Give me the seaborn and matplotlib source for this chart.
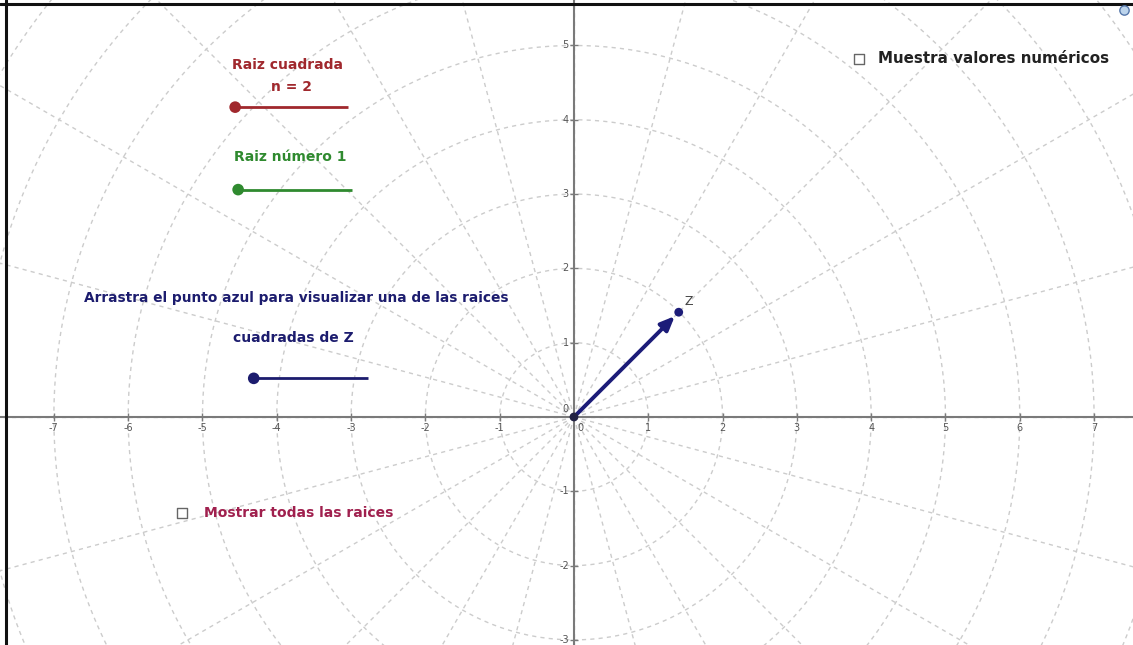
import numpy as np
import matplotlib
matplotlib.use("Agg")
import matplotlib.pyplot as plt
import seaborn as sns
import pandas as pd

# ── Data ─────────────────────────────────────────────────────────────────────
X_TICKS = [-7, -6, -5, -4, -3, -2, -1, 0, 1, 2, 3, 4, 5, 6, 7]
Y_TICKS = [-3, -2, -1, 0, 1, 2, 3, 4, 5]
GRID_RADII = [1, 2, 3, 4, 5, 6, 7, 8, 9, 10]
GRID_ANGLES_DEG = list(range(0, 360, 15))

Z_POINT = (1.41, 1.41)          # vector Z
ORIGIN = (0.0, 0.0)

SLIDER_NAMES = ["n", "raiz", "z"]
SLIDER_X0 = [-4.56, -4.52, -4.31]
SLIDER_X1 = [-3.04, -2.99, -2.77]
SLIDER_Y = [4.17, 3.06, 0.52]
SLIDER_COLORS = ["#a0282d", "#2f8a2f", "#1c1c6e"]

# ── Style ────────────────────────────────────────────────────────────────────
sns.set_theme(style="white")
plt.rcParams["font.family"] = ["DejaVu Sans"]

XLIM = (-7.725, 7.524)
YLIM = (-3.069, 5.612)
LABEL_FS = 10.0

fig = plt.figure(figsize=(11.33, 6.45), dpi=100)
ax = fig.add_axes([0, 0, 1, 1])
ax.set_xlim(*XLIM)
ax.set_ylim(*YLIM)
ax.set_aspect("equal")
ax.axis("off")

# polar grid
grid_kw = dict(color="#cccccc", lw=1.0, ls=(0, (3, 3)), zorder=1)
t = np.linspace(0, 2 * np.pi, 400)
for r in GRID_RADII:
    ax.plot(r * np.cos(t), r * np.sin(t), **grid_kw)
for a in GRID_ANGLES_DEG:
    th = np.deg2rad(a)
    ax.plot([0, 12 * np.cos(th)], [0, 12 * np.sin(th)], **grid_kw)

# axes
ax.axhline(0, color="#7a7a7a", lw=1.5, zorder=2)
ax.axvline(0, color="#7a7a7a", lw=1.5, zorder=2)
xt = [v for v in X_TICKS if v != 0]
yt = [v for v in Y_TICKS if v != 0]
ax.scatter(xt, [0] * len(xt), marker="|", s=40, color="#7a7a7a", lw=1, zorder=2)
ax.scatter([0] * len(yt), yt, marker="_", s=40, color="#7a7a7a", lw=1, zorder=2)
for v in xt:
    ax.text(v, -0.08, str(v), ha="center", va="top",
            fontsize=7, color="#555555", zorder=3)
for v in yt:
    ax.text(-0.07, v, str(v), ha="right", va="center",
            fontsize=7, color="#555555", zorder=3)
ax.text(0.05, -0.08, "0", ha="left", va="top", fontsize=7, color="#555555")
ax.text(-0.07, 0.04, "0", ha="right", va="bottom", fontsize=7, color="#555555")

# frame of the applet
ax.axvline(-7.645, color="#111111", lw=2.2, zorder=6)
ax.axhline(5.56, color="#111111", lw=2.2, zorder=6)

# vector Z
ax.annotate("", xy=Z_POINT, xytext=ORIGIN,
            arrowprops=dict(arrowstyle="-|>,head_length=0.7,head_width=0.3",
                            color="#1c1c78", lw=2.8, shrinkA=0, shrinkB=4),
            zorder=5)
pts = pd.DataFrame({"x": [ORIGIN[0], Z_POINT[0]], "y": [ORIGIN[1], Z_POINT[1]],
                    "name": ["O", "Z"]})
sns.scatterplot(data=pts, x="x", y="y", hue="name",
                palette={"O": "#222244", "Z": "#1c1c78"}, s=40,
                edgecolor="none", legend=False, ax=ax, zorder=6)
ax.text(Z_POINT[0] + 0.08, Z_POINT[1] + 0.1, "Z", fontsize=9, color="#444444")

# sliders
sl = pd.DataFrame({"name": SLIDER_NAMES, "x0": SLIDER_X0, "x1": SLIDER_X1,
                   "y": SLIDER_Y, "color": SLIDER_COLORS})
for _, row in sl.iterrows():
    ax.plot([row["x0"], row["x1"]], [row["y"], row["y"]],
            color=row["color"], lw=2, zorder=4, solid_capstyle="butt")
sns.scatterplot(data=sl, x="x0", y="y", hue="name",
                palette=dict(zip(SLIDER_NAMES, SLIDER_COLORS)), s=70,
                edgecolor="none", legend=False, ax=ax, zorder=5)

# texts
ax.text(-3.85, 4.74, "Raiz cuadrada", ha="center", va="center",
        fontsize=LABEL_FS, fontweight="bold", color="#a0282d")
ax.text(-3.80, 4.44, "n = 2", ha="center", va="center",
        fontsize=LABEL_FS, fontweight="bold", color="#a0282d")
ax.text(-3.82, 3.50, "Raiz número 1", ha="center", va="center",
        fontsize=LABEL_FS, fontweight="bold", color="#2f8a2f")
ax.text(-6.59, 1.60, "Arrastra el punto azul para visualizar una de las raices",
        ha="left", va="center", fontsize=9.9, fontweight="bold", color="#1c1c6e")
ax.text(-3.77, 1.06, "cuadradas de Z", ha="center", va="center",
        fontsize=LABEL_FS, fontweight="bold", color="#1c1c6e")

# checkboxes
ax.scatter([3.84, -5.28], [4.82, -1.29], marker="s", s=55, facecolor="white",
           edgecolor="#666666", lw=1, zorder=5)
ax.text(4.09, 4.82, "Muestra valores numéricos", ha="left", va="center",
        fontsize=10.9, fontweight="bold", color="#222222")
ax.text(-4.98, -1.29, "Mostrar todas las raices", ha="left", va="center",
        fontsize=LABEL_FS, fontweight="bold", color="#a0204e")

# small refresh icon at the top right corner
ax.scatter([7.40], [5.48], marker="o", s=45, facecolor="#bcd4ec",
           edgecolor="#5577aa", lw=1, zorder=6)

fig.savefig("out.png", dpi=100)
